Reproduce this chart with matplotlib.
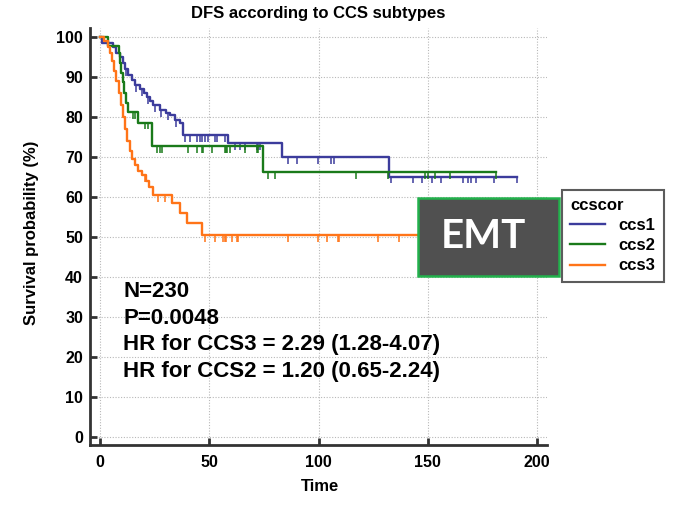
import numpy as np
import matplotlib
matplotlib.use("Agg")
import matplotlib.pyplot as plt
from matplotlib.patches import Rectangle
from matplotlib.lines import Line2D

# step curves (time, survival %)
ccs1_t = [0, 1, 6, 7.5, 9, 10.5, 11.5, 13, 14.5, 16, 18.3, 20, 21.4, 23, 24.4, 27.5,
          30, 32, 34.3, 36.6, 38.1, 58.6, 83.3, 132.3, 190.7]
ccs1_s = [100, 98.5, 97.5, 96, 95, 93.5, 92, 90.5, 89.3, 88, 87, 86, 85, 84, 83, 81.7,
          81, 80.5, 79.3, 78.4, 75.5, 73.4, 70, 65.1, 65.1]

ccs2_t = [0, 3.5, 8.5, 9.2, 9.8, 10.3, 11, 11.7, 13, 17.5, 24, 74.7, 181.2]
ccs2_s = [100, 97.8, 96, 93.5, 91, 88.8, 86, 83.5, 81.2, 78.6, 72.8, 66.3, 66.3]

ccs3_t = [0, 2, 3.5, 4.5, 5.5, 6.5, 7.5, 8.5, 9.5, 10.5, 11.5, 12.5, 13.5, 14.5, 16,
          17.5, 19, 21, 22.5, 24.3, 33, 36.6, 39.7, 46.5, 160]
ccs3_s = [100, 99, 97.5, 96, 94, 91.5, 89, 86, 83, 80, 77, 74, 71.5, 69.5, 68,
          66.5, 65.5, 64, 62.5, 60.5, 58.5, 56, 53.5, 50.4, 50.4]

# censored times
ccs1_cens = [12, 16.5, 19, 22, 25, 28, 31, 35, 38.9, 41.2, 44.3, 45.8, 46.5, 48, 49.6,
             52.6, 53.4, 57.2, 61.8, 64, 66.4, 71.7, 72.5, 73.2, 86.2, 90, 99.9, 105.7,
             107, 133, 143.4, 147.2, 151.8, 155.9, 166.3, 168.5, 169.6, 172, 180.3, 190.7]
ccs2_cens = [15, 16, 20.6, 22, 26, 27.5, 28.2, 40.4, 44.2, 46.5, 47.3, 51.1, 57.2, 57.7,
             58.3, 59.5, 66.4, 71.7, 72.5, 77, 80, 117, 132, 148.7, 150, 153.3, 160, 181.2]
ccs3_cens = [20.6, 26.7, 29.7, 48, 52.6, 56.4, 57.2, 57.7, 60.3, 62.5, 63.3, 86.2, 99.9,
             104, 109, 109.5, 127.4, 137]

groups = ["ccs1", "ccs2", "ccs3"]
colors = ["#3c3c9c", "#1a7a1a", "#ff7418"]

annot = ["N=230", "P=0.0048", "HR for CCS3 = 2.29 (1.28-4.07)",
         "HR for CCS2 = 1.20 (0.65-2.24)"]

plt.rcParams['font.family'] = ['Liberation Sans', 'DejaVu Sans']

W, H = 673, 505
fig = plt.figure(figsize=(W / 100, H / 100), dpi=100)
ax = fig.add_axes([90 / W, 1 - 445 / H, 457 / W, 417 / H])

curves = [(ccs1_t, ccs1_s, ccs1_cens), (ccs2_t, ccs2_s, ccs2_cens),
          (ccs3_t, ccs3_s, ccs3_cens)]
for (t, s, cens), c in zip(curves, colors):
    ax.step(t, s, where='post', color=c, lw=1.7, zorder=3)
    t_arr = np.array(t)
    s_arr = np.array(s)
    idx = np.searchsorted(t_arr, cens, side='right') - 1
    sc = s_arr[idx]
    ax.vlines(cens, sc - 1.7, sc, color=c, lw=1.1, zorder=3)

ax.set_xlim(-4.58, 204.58)
ax.set_ylim(-2, 102.25)
ax.set_xticks([0, 50, 100, 150, 200])
ax.set_yticks(range(0, 101, 10))
ax.grid(True, ls=(0, (1, 1.5)), color='#b8b8b8', lw=0.8)
ax.set_axisbelow(True)
for side in ['top', 'right']:
    ax.spines[side].set_visible(False)
for side in ['left', 'bottom']:
    ax.spines[side].set_linewidth(2)
    ax.spines[side].set_color('#333333')
ax.tick_params(direction='in', length=5, width=2, color='#333333',
               labelsize=11.5)
ax.tick_params(axis='x', pad=7)
ax.tick_params(axis='y', pad=5)
for lab in ax.get_xticklabels() + ax.get_yticklabels():
    lab.set_fontweight('bold')

ax.set_xlabel("Time", fontsize=12, fontweight='bold')
ax.xaxis.set_label_coords(0.503, -0.082)
ax.xaxis.label.set_va('top')
ax.set_ylabel("Survival probability (%)", fontsize=12, fontweight='bold')
ax.yaxis.set_label_coords(-0.112, 0.51)
ax.set_title("DFS according to CCS subtypes", fontsize=12, fontweight='bold',
             pad=7)

for i, line in enumerate(annot):
    ax.text(10.7, 36.3 - i * 6.6, line, fontsize=16, fontweight='bold',
            va='center', ha='left')

# legend
handles = [Line2D([], [], color=c, lw=1.7) for c in colors]
leg = ax.legend(handles, groups, title="ccscor", loc='upper left',
                bbox_to_anchor=(562 / W, 1 - 190 / H),
                bbox_transform=fig.transFigure, frameon=True, fancybox=False,
                edgecolor='#333333', alignment='left', borderaxespad=0,
                prop={'weight': 'bold', 'size': 12}, handlelength=2.1,
                handletextpad=0.8, labelspacing=0.3, borderpad=0.5)
leg.get_title().set_fontweight('bold')
leg.get_title().set_fontsize(12)
leg.get_frame().set_linewidth(1.5)

# EMT box
fig.add_artist(Rectangle((418 / W, 1 - 276 / H), 141 / W, 78 / H,
                         transform=fig.transFigure, facecolor='#505050',
                         edgecolor='#22b14c', lw=1.8, zorder=5))
fig.text(483 / W, 1 - 236 / H, "EMT", color='white', fontsize=29,
         fontweight='bold', family=['Lato', 'DejaVu Sans'],
         ha='center', va='center', zorder=6)

fig.savefig("out.png", dpi=100)
